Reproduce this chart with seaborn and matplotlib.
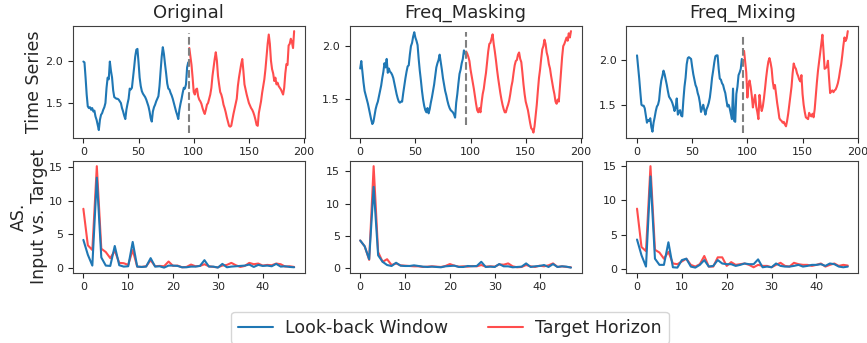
import numpy as np
import matplotlib
matplotlib.use("Agg")
import matplotlib.pyplot as plt
import seaborn as sns

# ---------------- data ----------------
titles = ["Original", "Freq_Masking", "Freq_Mixing"]
legend_labels = ["Look-back Window", "Target Horizon"]

orig_input = [1.99, 1.98, 1.80, 1.60, 1.46, 1.44, 1.45, 1.42, 1.44, 1.40, 1.41, 1.34, 1.30, 1.24, 1.18, 1.30,
              1.36, 1.38, 1.42, 1.45, 1.50, 1.68, 1.80, 1.78, 1.99, 1.88, 1.80, 1.65, 1.57, 1.56, 1.55, 1.55,
              1.54, 1.52, 1.50, 1.44, 1.40, 1.35, 1.31, 1.42, 1.49, 1.55, 1.67, 1.66, 1.68, 1.80, 1.92, 2.05,
              2.13, 2.14, 1.98, 1.80, 1.70, 1.64, 1.61, 1.59, 1.57, 1.54, 1.50, 1.46, 1.40, 1.32, 1.28, 1.40,
              1.45, 1.48, 1.52, 1.55, 1.58, 1.70, 1.88, 2.05, 2.16, 2.08, 1.96, 1.85, 1.73, 1.67, 1.66, 1.62,
              1.59, 1.55, 1.50, 1.45, 1.40, 1.36, 1.31, 1.42, 1.49, 1.55, 1.62, 1.68, 1.67, 1.72, 1.92, 1.98]
orig_target = [2.15, 2.05, 1.95, 1.80, 1.63, 1.60, 1.66, 1.67, 1.58, 1.54, 1.52, 1.49, 1.44, 1.40, 1.37, 1.42,
               1.48, 1.50, 1.55, 1.60, 1.68, 1.82, 1.92, 2.02, 2.10, 2.00, 1.82, 1.72, 1.63, 1.60, 1.55, 1.48,
               1.44, 1.39, 1.33, 1.28, 1.23, 1.22, 1.23, 1.30, 1.37, 1.43, 1.49, 1.55, 1.70, 1.80, 1.88, 1.96,
               2.02, 1.88, 1.72, 1.66, 1.60, 1.55, 1.50, 1.47, 1.44, 1.42, 1.39, 1.35, 1.30, 1.24, 1.23, 1.38,
               1.45, 1.52, 1.62, 1.70, 1.78, 1.90, 2.05, 2.20, 2.31, 2.20, 2.00, 1.90, 1.85, 1.76, 1.80, 1.72,
               1.74, 1.70, 1.68, 1.66, 1.63, 1.60, 1.68, 1.85, 1.96, 1.95, 2.18, 2.20, 2.26, 2.22, 2.15, 2.35]

mask_input = [1.79, 1.86, 1.76, 1.66, 1.58, 1.54, 1.50, 1.46, 1.41, 1.36, 1.31, 1.27, 1.29, 1.35, 1.41, 1.45,
              1.48, 1.53, 1.58, 1.63, 1.70, 1.76, 1.84, 1.80, 1.88, 1.75, 1.79, 1.76, 1.75, 1.73, 1.70, 1.65,
              1.60, 1.55, 1.51, 1.48, 1.47, 1.48, 1.48, 1.56, 1.63, 1.70, 1.76, 1.81, 1.82, 1.92, 2.00, 2.03,
              2.09, 2.13, 2.08, 2.05, 2.01, 1.88, 1.77, 1.68, 1.58, 1.50, 1.44, 1.40, 1.38, 1.42, 1.37, 1.41,
              1.47, 1.52, 1.58, 1.64, 1.72, 1.80, 1.84, 1.87, 1.92, 1.85, 1.78, 1.70, 1.64, 1.58, 1.54, 1.49,
              1.45, 1.42, 1.40, 1.39, 1.38, 1.36, 1.33, 1.47, 1.55, 1.65, 1.74, 1.78, 1.84, 1.88, 1.96, 1.93]
mask_target = [1.95, 1.93, 1.90, 1.86, 1.78, 1.72, 1.66, 1.60, 1.53, 1.46, 1.40, 1.38, 1.42, 1.38, 1.47, 1.55,
               1.60, 1.68, 1.75, 1.85, 1.95, 2.02, 2.03, 2.07, 2.11, 2.02, 1.95, 1.87, 1.78, 1.70, 1.63, 1.56,
               1.50, 1.45, 1.41, 1.38, 1.38, 1.42, 1.45, 1.49, 1.55, 1.62, 1.67, 1.75, 1.82, 1.86, 1.87, 1.92,
               1.94, 1.88, 1.85, 1.75, 1.64, 1.55, 1.48, 1.44, 1.40, 1.34, 1.28, 1.23, 1.22, 1.19, 1.25, 1.35,
               1.45, 1.58, 1.70, 1.78, 1.88, 1.97, 2.00, 2.06, 2.02, 1.94, 1.90, 1.83, 1.79, 1.72, 1.66, 1.60,
               1.55, 1.48, 1.46, 1.50, 1.48, 1.62, 1.76, 1.90, 2.00, 2.02, 2.05, 2.08, 2.05, 2.12, 2.08, 2.14]

mix_input = [2.05, 1.92, 1.79, 1.64, 1.50, 1.49, 1.49, 1.46, 1.38, 1.30, 1.33, 1.32, 1.35, 1.25, 1.20, 1.30,
             1.36, 1.43, 1.48, 1.50, 1.55, 1.68, 1.77, 1.82, 1.88, 1.84, 1.78, 1.72, 1.65, 1.59, 1.57, 1.55,
             1.52, 1.48, 1.43, 1.47, 1.57, 1.39, 1.42, 1.44, 1.38, 1.37, 1.55, 1.70, 1.80, 1.95, 2.02, 2.03,
             2.02, 2.01, 1.92, 1.84, 1.78, 1.72, 1.69, 1.63, 1.59, 1.52, 1.42, 1.46, 1.50, 1.44, 1.39, 1.45,
             1.48, 1.52, 1.58, 1.68, 1.80, 1.88, 1.97, 2.04, 2.05, 2.05, 1.90, 1.79, 1.78, 1.74, 1.72, 1.67,
             1.63, 1.55, 1.48, 1.50, 1.46, 1.40, 1.34, 1.68, 1.32, 1.31, 1.62, 1.70, 1.83, 1.86, 1.90, 2.01]
mix_target = [2.08, 2.10, 1.98, 1.86, 1.58, 1.72, 1.77, 1.70, 1.60, 1.47, 1.55, 1.61, 1.48, 1.42, 1.34, 1.61,
              1.50, 1.43, 1.48, 1.57, 1.68, 1.80, 1.90, 1.98, 2.02, 1.97, 1.90, 1.76, 1.68, 1.72, 1.62, 1.52,
              1.44, 1.35, 1.33, 1.32, 1.30, 1.31, 1.28, 1.26, 1.32, 1.40, 1.50, 1.60, 1.70, 1.85, 1.96, 1.92,
              1.90, 1.85, 1.82, 1.78, 1.76, 1.83, 1.62, 1.50, 1.42, 1.36, 1.35, 1.34, 1.41, 1.38, 1.37, 1.40,
              1.36, 1.45, 1.60, 1.75, 1.88, 1.98, 2.08, 2.18, 2.28, 2.10, 1.90, 1.91, 1.92, 1.99, 1.80, 1.63,
              1.65, 1.66, 1.64, 1.66, 1.67, 1.70, 1.74, 1.80, 1.88, 1.95, 2.05, 2.16, 2.25, 2.21, 2.24, 2.32]

orig_input_spec = [4.2, 2.0, 0.4, 13.4, 1.6, 0.4, 0.35, 3.3, 0.45, 0.25, 0.3, 3.9, 0.25, 0.2, 0.25, 1.5,
                   0.25, 0.3, 0.1, 0.4, 0.4, 0.35, 0.15, 0.15, 0.25, 0.25, 0.35, 1.2, 0.25, 0.25, 0.1, 0.65,
                   0.15, 0.25, 0.3, 0.35, 0.4, 0.55, 0.2, 0.5, 0.35, 0.4, 0.3, 0.65, 0.25, 0.3, 0.2, 0.15]
orig_target_spec = [8.8, 3.4, 2.7, 15.1, 2.9, 2.4, 1.5, 2.6, 0.8, 0.75, 0.5, 2.7, 0.25, 0.2, 0.3, 1.2,
                    0.3, 0.35, 0.3, 1.0, 0.35, 0.4, 0.15, 0.2, 0.55, 0.3, 0.35, 0.6, 0.3, 0.2, 0.15, 0.4,
                    0.5, 0.8, 0.45, 0.2, 0.35, 0.8, 0.6, 0.7, 0.4, 0.5, 0.45, 0.7, 0.6, 0.25, 0.3, 0.2]
mask_input_spec = [4.3, 3.4, 1.4, 12.6, 2.0, 1.0, 0.5, 0.35, 0.85, 0.4, 0.35, 0.35, 0.45, 0.35, 0.25, 0.2,
                   0.25, 0.2, 0.15, 0.3, 0.35, 0.4, 0.2, 0.2, 0.35, 0.3, 0.35, 1.0, 0.2, 0.25, 0.2, 0.65,
                   0.3, 0.3, 0.15, 0.2, 0.25, 0.75, 0.2, 0.3, 0.35, 0.5, 0.2, 0.65, 0.2, 0.3, 0.25, 0.1]
mask_target_spec = [4.3, 3.4, 1.3, 15.8, 2.5, 1.0, 1.4, 0.5, 0.75, 0.45, 0.4, 0.35, 0.3, 0.3, 0.2, 0.25,
                    0.3, 0.25, 0.2, 0.35, 0.65, 0.4, 0.25, 0.3, 0.25, 0.35, 0.3, 0.5, 0.25, 0.3, 0.25, 0.6,
                    0.55, 0.75, 0.3, 0.15, 0.2, 0.5, 0.3, 0.2, 0.4, 0.3, 0.45, 0.75, 0.2, 0.3, 0.2, 0.15]
mix_input_spec = [4.3, 2.0, 0.35, 13.5, 1.5, 0.6, 0.6, 3.9, 0.25, 0.2, 1.3, 1.5, 0.35, 0.2, 0.6, 1.3,
                  0.35, 0.45, 1.3, 0.8, 0.7, 0.7, 0.45, 0.6, 0.8, 0.7, 0.7, 1.4, 0.25, 0.35, 0.25, 0.8,
                  0.45, 0.35, 0.35, 0.45, 0.6, 0.35, 0.45, 0.6, 0.6, 0.7, 0.45, 0.8, 0.7, 0.35, 0.25, 0.35]
mix_target_spec = [8.8, 3.2, 2.6, 15.0, 2.8, 2.4, 1.5, 2.5, 0.8, 0.7, 1.1, 1.5, 0.6, 0.35, 0.7, 1.9,
                   0.35, 0.35, 1.7, 1.7, 0.45, 1.0, 0.6, 0.7, 0.8, 0.6, 0.25, 0.6, 0.45, 0.45, 0.25, 0.6,
                   0.9, 0.45, 0.35, 0.9, 0.7, 0.6, 0.6, 0.45, 0.6, 0.8, 0.35, 0.6, 0.8, 0.45, 0.6, 0.5]

inputs = [orig_input, mask_input, mix_input]
targets = [orig_target, mask_target, mix_target]
input_specs = [orig_input_spec, mask_input_spec, mix_input_spec]
target_specs = [orig_target_spec, mask_target_spec, mix_target_spec]
split_lo = [1.15, 1.26, 1.19]
split_hi = [2.33, 2.13, 2.28]

# ---------------- style ----------------
sns.set_style("ticks")
plt.rcParams['font.family'] = ['DejaVu Sans']
plt.rcParams['axes.edgecolor'] = '0.25'
BLUE = '#1f77b4'
RED = '#ff4d4d'

fig, axes = plt.subplots(2, 3, figsize=(8.67, 3.43), dpi=100)
fig.subplots_adjust(left=0.084, right=0.99, top=0.924, bottom=0.205, hspace=0.21, wspace=0.194)

for j in range(3):
    ax = axes[0, j]
    n_in = len(inputs[j])
    x_in = np.arange(n_in)
    x_out = np.arange(n_in, n_in + len(targets[j]))
    sns.lineplot(x=x_in, y=inputs[j], ax=ax, color=BLUE, lw=1.5, label=legend_labels[0], legend=False)
    sns.lineplot(x=x_out, y=targets[j], ax=ax, color=RED, lw=1.5, label=legend_labels[1], legend=False)
    ax.vlines(n_in, split_lo[j], split_hi[j], colors='gray', linestyles='--', lw=1.5)
    ax.set_title(titles[j], fontsize=13)
    ax.set_xticks([0, 50, 100, 150, 200])
    ax.set_yticks([1.5, 2.0])
    ax.tick_params(labelsize=8, length=3.5, width=0.8)

    ax2 = axes[1, j]
    k = np.arange(len(input_specs[j]))
    sns.lineplot(x=k, y=target_specs[j], ax=ax2, color=RED, lw=1.5, legend=False)
    sns.lineplot(x=k, y=input_specs[j], ax=ax2, color=BLUE, lw=1.5, legend=False)
    ax2.set_xticks([0, 10, 20, 30, 40])
    ax2.set_yticks([0, 5, 10, 15])
    ax2.tick_params(labelsize=8, length=3.5, width=0.8)
    for a in (ax, ax2):
        a.set_xlabel("")
        a.set_ylabel("")

axes[0, 0].set_ylabel("Time Series", fontsize=12.5)
axes[0, 0].yaxis.set_label_coords(-0.13, 0.5)
axes[1, 0].set_ylabel("AS.\nInput vs. Target", fontsize=12.5)
axes[1, 0].yaxis.set_label_coords(-0.105, 0.5)

handles = axes[0, 0].get_lines()[:2]
fig.legend(handles, legend_labels, loc='lower center', ncol=2, fontsize=12.5,
           bbox_to_anchor=(0.519, -0.027), frameon=True, handlelength=2.0,
           handletextpad=0.7, columnspacing=2.3)

fig.savefig("out.png", dpi=100)
